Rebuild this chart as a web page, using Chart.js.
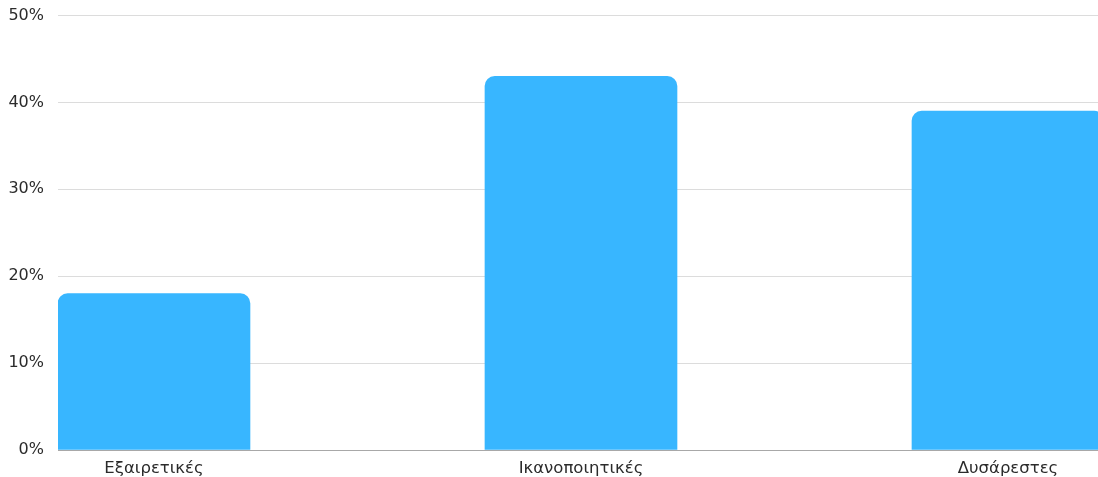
<!DOCTYPE html>
<html>
<head>
<meta charset="utf-8">
<script src="https://cdn.jsdelivr.net/npm/chart.js@4"></script>
<style>
  html, body { margin: 0; padding: 0; background: #fff; }
  #wrap { width: 1098px; height: 477px; position: relative; }
</style>
</head>
<body>
<div id="wrap"><canvas id="myChart"></canvas></div>
<script>
var categorias = ["Εξαιρετικές", "Ικανοποιητικές", "Δυσάρεστες"];
var porcentajes = [18, 43, 39];
var ticksY = [0, 10, 20, 30, 40, 50];

var puntos = [];
for (var i in porcentajes) {
    puntos.push({x: Number(i), y: porcentajes[i]});
}

var ctx = document.getElementById("myChart");
var myChart = new Chart(ctx, {
    type: 'bar',
    data: {
        datasets: [{
            data: puntos,
            backgroundColor: '#38b6ff',
            hoverBackgroundColor: '#38b6ff',
            borderWidth: 0,
            borderRadius: {topLeft: 10, topRight: 10, bottomLeft: 0, bottomRight: 0},
            borderSkipped: 'bottom',
            barThickness: 192
        }]
    },
    options: {
        responsive: true,
        maintainAspectRatio: false,
        animation: false,
        layout: { padding: {top: 15.5, right: 0, left: 0, bottom: 0} },
        plugins: {
            legend: { display: false },
            tooltip: { enabled: false }
        },
        scales: {
            x: {
                type: 'linear',
                offset: false,
                min: -0.2248,
                max: 2.2108,
                grid: { display: false, drawTicks: false, offset: false },
                border: { display: false },
                afterBuildTicks: function(axis) {
                    axis.ticks = categorias.map(function(c, i){ return {value: i}; });
                },
                afterFit: function(axis) { axis.height = 27; },
                ticks: {
                    autoSkip: false,
                    maxRotation: 0,
                    padding: 9,
                    color: '#2b2b2b',
                    font: { family: 'DejaVu Sans', size: 16.5 },
                    callback: function(v) { return categorias[v]; }
                }
            },
            y: {
                min: 0,
                max: 50,
                afterBuildTicks: function(axis) {
                    axis.ticks = ticksY.map(function(v){ return {value: v}; });
                },
                afterFit: function(axis) { axis.width = 58; },
                grid: {
                    drawTicks: true,
                    tickLength: 14,
                    tickColor: 'rgba(0,0,0,0)',
                    color: function(c) { return c.tick && c.tick.value === 0 ? '#a8a8a8' : '#dcdcdc'; },
                    lineWidth: 1
                },
                border: { display: false },
                ticks: {
                    padding: 0,
                    color: '#2b2b2b',
                    font: { family: 'DejaVu Sans', size: 16 },
                    callback: function(v) { return v + '%'; }
                }
            }
        }
    }
});
</script>
</body>
</html>
